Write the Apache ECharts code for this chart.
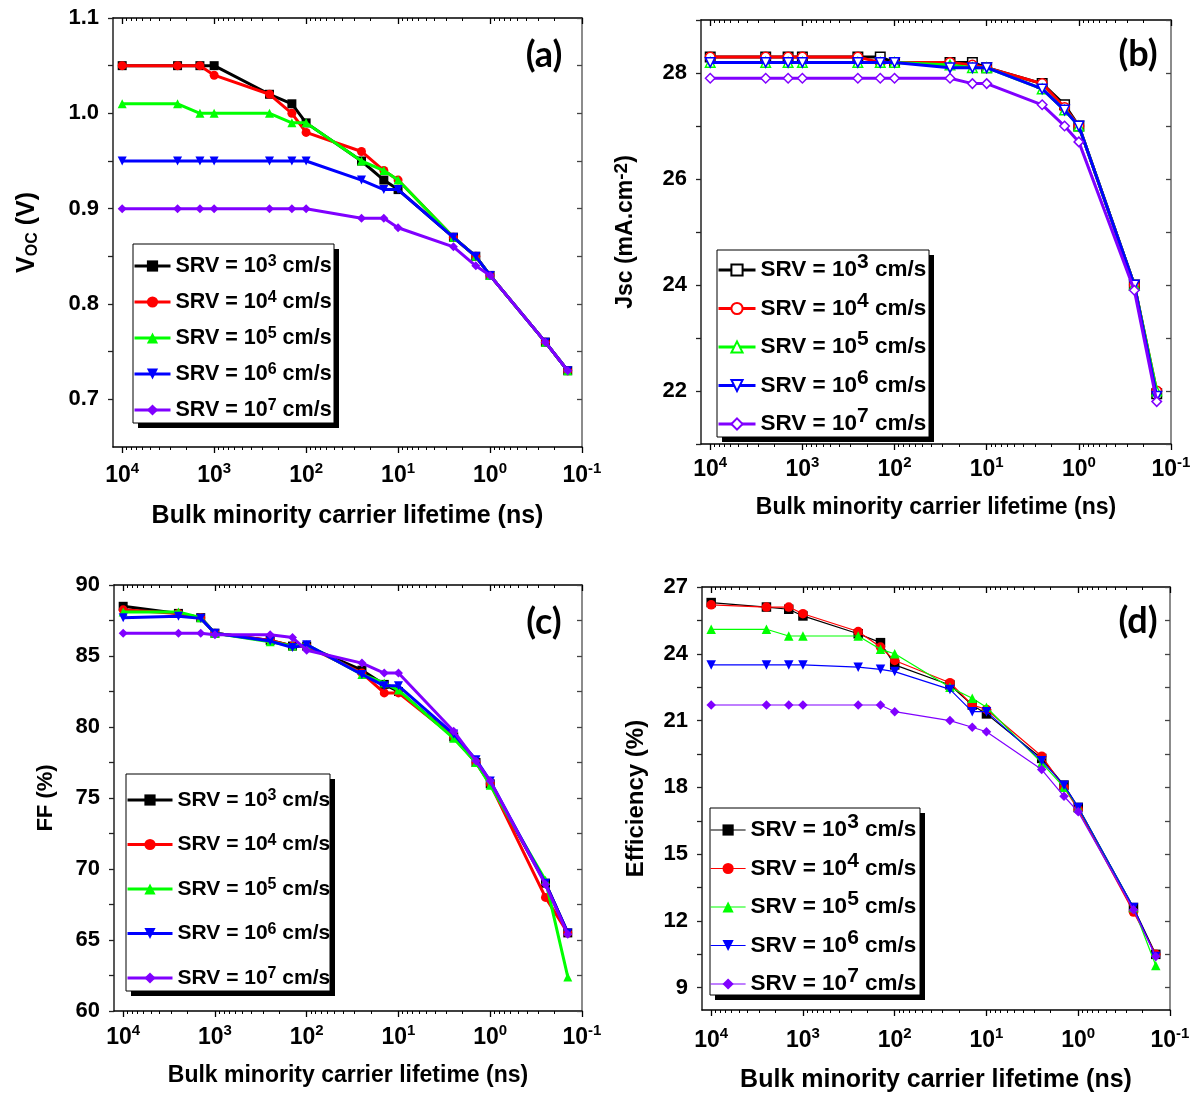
<!DOCTYPE html>
<html>
<head>
<meta charset="utf-8">
<script src="https://cdn.jsdelivr.net/npm/echarts@6/dist/echarts.min.js"></script>
<style>html,body{margin:0;padding:0;background:#fff}#c{width:1194px;height:1097px}</style>
</head>
<body>
<div id="c"></div>
<script>
// ---------- data ----------
const lifetime = [10000, 2500, 1428.6, 1000, 250, 142.86, 100, 25, 14.286, 10, 2.5, 1.4286, 1, 0.25, 0.14286];
const srvExp = ['3', '4', '5', '6', '7'];
const xTickValues = [10000, 1000, 100, 10, 1, 0.1];
const xMinorTicks = [];
for (let n = -1; n <= 3; n++) for (let k = 2; k <= 9; k++) xMinorTicks.push(+(k * Math.pow(10, n)).toPrecision(6));

const vocSRV3 = [1.05, 1.05, 1.05, 1.05, 1.02, 1.01, 0.99, 0.95, 0.93, 0.92, 0.87, 0.85, 0.83, 0.76, 0.73];
const vocSRV4 = [1.05, 1.05, 1.05, 1.04, 1.02, 1.00, 0.98, 0.96, 0.94, 0.93, 0.87, 0.85, 0.83, 0.76, 0.73];
const vocSRV5 = [1.01, 1.01, 1.00, 1.00, 1.00, 0.99, 0.99, 0.95, 0.94, 0.93, 0.87, 0.85, 0.83, 0.76, 0.73];
const vocSRV6 = [0.95, 0.95, 0.95, 0.95, 0.95, 0.95, 0.95, 0.93, 0.92, 0.92, 0.87, 0.85, 0.83, 0.76, 0.73];
const vocSRV7 = [0.90, 0.90, 0.90, 0.90, 0.90, 0.90, 0.90, 0.89, 0.89, 0.88, 0.86, 0.84, 0.83, 0.76, 0.73];

const jscSRV3 = [28.3, 28.3, 28.3, 28.3, 28.3, 28.3, 28.2, 28.2, 28.2, 28.1, 27.8, 27.4, 27.0, 24.0, 21.95];
const jscSRV4 = [28.3, 28.3, 28.3, 28.3, 28.3, 28.2, 28.2, 28.2, 28.15, 28.1, 27.8, 27.35, 27.0, 24.0, 22.0];
const jscSRV5 = [28.2, 28.2, 28.2, 28.2, 28.2, 28.2, 28.2, 28.15, 28.1, 28.1, 27.7, 27.3, 27.0, 24.0, 22.0];
const jscSRV6 = [28.2, 28.2, 28.2, 28.2, 28.2, 28.2, 28.2, 28.1, 28.1, 28.1, 27.7, 27.3, 27.0, 24.0, 21.9];
const jscSRV7 = [27.9, 27.9, 27.9, 27.9, 27.9, 27.9, 27.9, 27.9, 27.8, 27.8, 27.4, 27.0, 26.7, 23.9, 21.8];

const ffSRV3 = [88.5, 88.0, 87.7, 86.6, 86.1, 85.7, 85.7, 84.0, 83.0, 82.5, 79.3, 77.5, 76.0, 69.0, 65.5];
const ffSRV4 = [88.25, 88.0, 87.7, 86.6, 86.1, 85.7, 85.7, 83.8, 82.4, 82.4, 79.3, 77.5, 76.0, 68.0, 65.5];
const ffSRV5 = [88.1, 88.1, 87.7, 86.6, 86.0, 85.7, 85.8, 83.7, 83.1, 82.6, 79.2, 77.5, 75.9, 69.2, 62.4];
const ffSRV6 = [87.7, 87.8, 87.65, 86.6, 86.05, 85.6, 85.8, 83.7, 82.9, 82.9, 79.5, 77.7, 76.2, 69.0, 65.5];
const ffSRV7 = [86.6, 86.6, 86.6, 86.5, 86.5, 86.3, 85.4, 84.5, 83.8, 83.8, 79.7, 77.6, 76.2, 68.9, 65.4];

const effSRV3 = [26.3, 26.1, 26.0, 25.7, 24.9, 24.5, 23.5, 22.6, 21.7, 21.3, 19.3, 18.1, 17.1, 12.6, 10.5];
const effSRV4 = [26.2, 26.1, 26.1, 25.8, 25.0, 24.3, 23.7, 22.7, 21.7, 21.5, 19.4, 18.0, 17.0, 12.4, 10.5];
const effSRV5 = [25.1, 25.1, 24.8, 24.8, 24.8, 24.2, 24.0, 22.5, 22.0, 21.6, 19.1, 18.0, 17.1, 12.6, 10.0];
const effSRV6 = [23.5, 23.5, 23.5, 23.5, 23.4, 23.3, 23.2, 22.4, 21.4, 21.4, 19.2, 18.1, 17.1, 12.6, 10.4];
const effSRV7 = [21.7, 21.7, 21.7, 21.7, 21.7, 21.7, 21.4, 21.0, 20.7, 20.5, 18.8, 17.6, 16.9, 12.5, 10.4];

const vocLabels = [0.7, 0.8, 0.9, 1.0, 1.1];
const vocTicks = [0.7, 0.75, 0.8, 0.85, 0.9, 0.95, 1.0, 1.05, 1.1];
const jscLabels = [22, 24, 26, 28];
const jscTicks = [21, 22, 23, 24, 25, 26, 27, 28, 29];
const ffLabels = [60, 65, 70, 75, 80, 85, 90];
const ffTicks = [60, 62.5, 65, 67.5, 70, 72.5, 75, 77.5, 80, 82.5, 85, 87.5, 90];
const effLabels = [9, 12, 15, 18, 21, 24, 27];
const effTicks = [9, 10.5, 12, 13.5, 15, 16.5, 18, 19.5, 21, 22.5, 24, 25.5, 27];

const xTitle = 'Bulk minority carrier lifetime (ns)';

// ---------- styles ----------
const FONT = '"Liberation Sans", Arial, Helvetica, sans-serif';
const colors = ['#000000', '#ff0000', '#00ff00', '#0000ff', '#8000ff'];
const symbols = ['rect', 'circle', 'triangle', 'path://M0,0 L10,0 L5,9 Z', 'diamond'];

const panels = [
  { key: 'a', grid: [113, 18, 469, 429], yMin: 0.65, yMax: 1.1, yLabels: vocLabels, yTicks: vocTicks,
    vals: [vocSRV3, vocSRV4, vocSRV5, vocSRV6, vocSRV7], open: false, lw: 3, sym: 9,
    yFmt: v => v.toFixed(1),
    yName: '{b|V}{sub|OC}{b| (V)}', yNameSize: 25, yNameGap: 72,
    xNameSize: 25, xNameGap: 57, xLabelMargin: 14,
    legend: { box: [133, 244, 201, 179], iw: 36, gap: 12, pad: [10, 3, 1, 0], fs: 21.5, lh: 24, sup: 16, supLH: 12 },
    tag: [544, 55] },
  { key: 'b', grid: [701, 20, 470, 424], yMin: 21, yMax: 29, yLabels: jscLabels, yTicks: jscTicks,
    vals: [jscSRV3, jscSRV4, jscSRV5, jscSRV6, jscSRV7], open: true, lw: 3, sym: 9.5,
    yFmt: v => String(v),
    yName: '{b|Jsc (mA.cm}{sup|-2}{b|)}', yNameSize: 23, yNameGap: 61,
    xNameSize: 23, xNameGap: 52, xLabelMargin: 11,
    legend: { box: [717, 250, 212, 187], iw: 37, gap: 2.5, pad: [2, 3, 0, 0], fs: 22.5, lh: 36, sup: 21, supLH: 10 },
    tag: [1138, 54] },
  { key: 'c', grid: [114, 585, 468, 426], yMin: 60, yMax: 90, yLabels: ffLabels, yTicks: ffTicks,
    vals: [ffSRV3, ffSRV4, ffSRV5, ffSRV6, ffSRV7], open: false, lw: 3, sym: 9,
    yFmt: v => String(v),
    yName: '{b|FF (%)}', yNameSize: 22, yNameGap: 54,
    xNameSize: 23, xNameGap: 53, xLabelMargin: 12,
    legend: { box: [126, 774, 204, 217], iw: 45, gap: 20.5, pad: [14, 3, 1, 0], fs: 21, lh: 24, sup: 16, supLH: 12 },
    tag: [544, 622] },
  { key: 'd', grid: [702, 587, 468, 423], yMin: 8, yMax: 27, yLabels: effLabels, yTicks: effTicks,
    vals: [effSRV3, effSRV4, effSRV5, effSRV6, effSRV7], open: false, lw: 1.2, sym: 9.5,
    yFmt: v => String(v),
    yName: '{b|Efficiency (%)}', yNameSize: 24, yNameGap: 52,
    xNameSize: 25, xNameGap: 58, xLabelMargin: 16,
    legend: { box: [710, 808, 210, 187], iw: 35, gap: 2.5, pad: [4, 3, 0, 0], fs: 22.5, lh: 36, sup: 21, supLH: 10 },
    tag: [1138, 621] }
];

const option = {
  animation: false,
  backgroundColor: '#ffffff',
  grid: [], xAxis: [], yAxis: [], legend: [], series: [], graphic: []
};

panels.forEach((P, p) => {
  option.grid.push({ left: P.grid[0], top: P.grid[1], width: P.grid[2], height: P.grid[3],
    containLabel: false, outerBoundsMode: 'none', show: false });

  const xBase = { type: 'log', logBase: 10, min: 0.1, max: 12589, inverse: true, gridIndex: p,
    splitLine: { show: false }, minorTick: { show: false }, minorSplitLine: { show: false } };
  const lblRich = {
    b: { fontFamily: FONT, fontWeight: 'bold', fontSize: 23, color: '#000', lineHeight: 30 },
    s: { fontFamily: FONT, fontWeight: 'bold', fontSize: 15, color: '#000', verticalAlign: 'top', lineHeight: 12 }
  };
  option.xAxis.push(Object.assign({}, xBase, {
    position: 'bottom',
    axisLine: { show: true, onZero: false, lineStyle: { color: '#000', width: 1.5 } },
    axisTick: { show: true, inside: false, length: 6, customValues: xTickValues, lineStyle: { color: '#000', width: 1.3 } },
    axisLabel: { show: true, customValues: xTickValues, margin: P.xLabelMargin,
      formatter: v => '{b|10}{s|' + Math.round(Math.log10(v)) + '}', rich: lblRich },
    name: xTitle, nameLocation: 'middle', nameGap: P.xNameGap, nameMoveOverlap: false,
    nameTextStyle: { fontFamily: FONT, fontWeight: 'bold', fontSize: P.xNameSize, color: '#000' }
  }));
  option.xAxis.push(Object.assign({}, xBase, {
    position: 'bottom',
    axisLine: { show: false, onZero: false },
    axisTick: { show: true, inside: false, length: 3, customValues: xMinorTicks, lineStyle: { color: '#000', width: 1 } },
    axisLabel: { show: false }
  }));
  option.xAxis.push(Object.assign({}, xBase, {
    position: 'top',
    axisLine: { show: true, onZero: false, lineStyle: { color: '#000', width: 1.5 } },
    axisTick: { show: true, inside: true, length: 6, customValues: xTickValues, lineStyle: { color: '#000', width: 1.3 } },
    axisLabel: { show: false }
  }));
  option.xAxis.push(Object.assign({}, xBase, {
    position: 'top',
    axisLine: { show: false, onZero: false },
    axisTick: { show: true, inside: true, length: 3, customValues: xMinorTicks, lineStyle: { color: '#000', width: 1 } },
    axisLabel: { show: false }
  }));

  option.yAxis.push({
    type: 'value', gridIndex: p, min: P.yMin, max: P.yMax, position: 'left',
    splitLine: { show: false },
    axisLine: { show: true, onZero: false, lineStyle: { color: '#222', width: 1.5 } },
    axisTick: { show: true, inside: false, length: 5, customValues: P.yTicks, lineStyle: { color: '#222', width: 1.3 } },
    axisLabel: { show: true, customValues: P.yLabels, margin: 14, formatter: P.yFmt,
      fontFamily: FONT, fontWeight: 'bold', fontSize: 22, color: '#000' },
    name: P.yName, nameLocation: 'middle', nameGap: P.yNameGap, nameRotate: 90, nameMoveOverlap: false,
    nameTextStyle: { rich: {
      b: { fontFamily: FONT, fontWeight: 'bold', fontSize: P.yNameSize, color: '#000', lineHeight: 28 },
      sub: { fontFamily: FONT, fontWeight: 'bold', fontSize: 16, color: '#000', verticalAlign: 'bottom', lineHeight: 16 },
      sup: { fontFamily: FONT, fontWeight: 'bold', fontSize: 19, color: '#000', verticalAlign: 'top', lineHeight: 12 }
    } }
  });
  option.yAxis.push({
    type: 'value', gridIndex: p, min: P.yMin, max: P.yMax, position: 'right',
    splitLine: { show: false },
    axisLine: { show: true, onZero: false, lineStyle: { color: '#666', width: 1.5 } },
    axisTick: { show: true, inside: true, length: 5, customValues: P.yTicks, lineStyle: { color: '#444', width: 1.3 } },
    axisLabel: { show: false }
  });

  const names = srvExp.map(e => P.key + e);
  P.vals.forEach((vals, s) => {
    const c = colors[s];
    option.series.push({
      type: 'line', name: names[s], xAxisIndex: 4 * p, yAxisIndex: 2 * p,
      data: lifetime.map((x, i) => [x, vals[i]]),
      symbol: symbols[s], symbolSize: P.sym, showSymbol: true, clip: false,
      lineStyle: { color: c, width: P.lw },
      itemStyle: P.open ? { color: '#ffffff', borderColor: c, borderWidth: 1.5 } : { color: c },
      emphasis: { disabled: true }, z: 2 + s
    });
  });

  const L = P.legend;
  const [bx, by, bw, bh] = L.box;
  option.graphic.push({ type: 'rect', z: 5, shape: { x: bx + 5, y: by + 5, width: bw, height: bh },
    style: { fill: '#000', stroke: null } });
  option.graphic.push({ type: 'rect', z: 6, shape: { x: bx, y: by, width: bw, height: bh },
    style: { fill: '#fff', stroke: '#000', lineWidth: 1 } });

  option.legend.push({
    orient: 'vertical', left: bx, top: by, data: names, selectedMode: false, z: 10,
    itemWidth: L.iw, itemHeight: 14, itemGap: L.gap, padding: L.pad,
    lineStyle: { width: P.lw },
    formatter: n => 'SRV = 10{s|' + n.slice(1) + '} cm/s',
    textStyle: { fontFamily: FONT, fontWeight: 'bold', fontSize: L.fs, color: '#000', lineHeight: L.lh,
      rich: { s: { fontFamily: FONT, fontWeight: 'bold', fontSize: L.sup, color: '#000', verticalAlign: 'top', lineHeight: L.supLH } } }
  });

  option.graphic.push({
    type: 'text', x: P.tag[0], y: P.tag[1], z: 100,
    style: { text: '(' + P.key + ')', fill: '#000', font: 'bold 36px Lato, "Open Sans", sans-serif',
      align: 'center', verticalAlign: 'middle' }
  });
});

const chart = echarts.init(document.getElementById('c'), null, { renderer: 'canvas' });
chart.setOption(option);
</script>
</body>
</html>
